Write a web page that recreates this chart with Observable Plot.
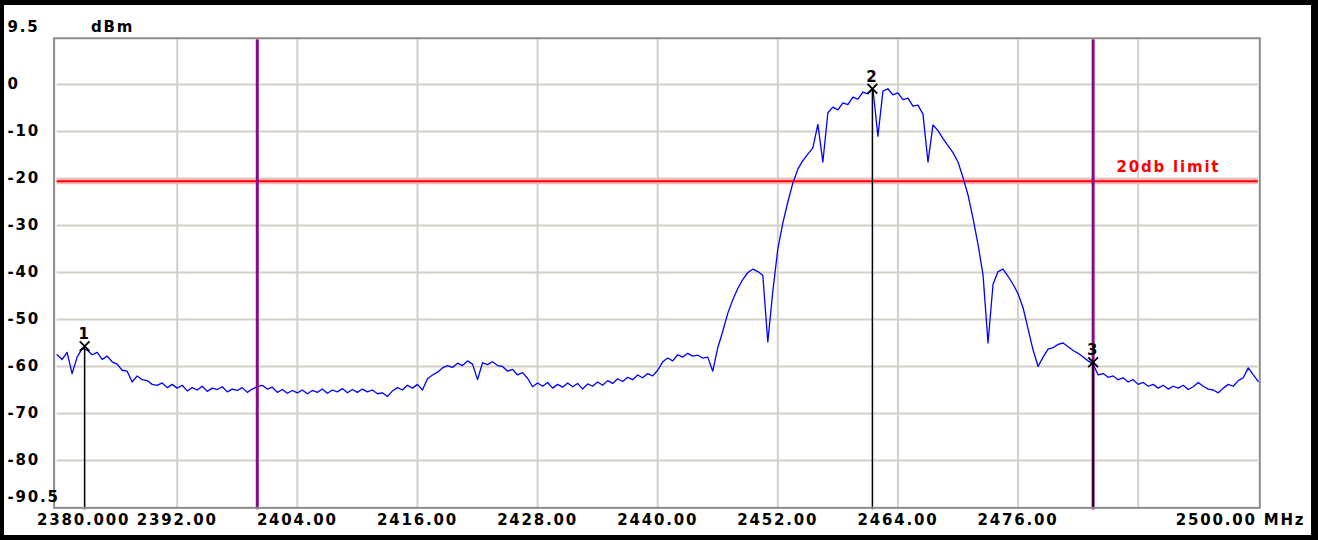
<!DOCTYPE html>
<html><head><meta charset="utf-8">
<script src="https://cdn.jsdelivr.net/npm/d3@7"></script>
<script src="https://cdn.jsdelivr.net/npm/@observablehq/plot@0.6"></script>
<style>
html,body{margin:0;padding:0;background:#000;}
#wrap{position:relative;width:1318px;height:540px;background:#000;overflow:hidden;}
#chart{position:absolute;left:4px;top:5px;width:1307px;height:530px;background:#fff;}
#chart svg text{letter-spacing:1.8px;}
</style></head><body><div id="wrap"><div id="chart"></div></div>
<script>
// Spectrum trace: level (dBm) every 0.5 MHz from 2380 MHz
const startFreq = 2380;
const freqStep = 0.5;
const traceLevels = [
  // 2380 - 2389.5
  -57.5, -58.5, -57.0, -61.5, -58.0, -56.2, -56.5, -57.5, -57.0, -58.5, -57.8, -59.0, -59.5, -60.8, -61.0, -63.3, -62.0, -62.8, -63.0, -63.8,
  // 2390 - 2399.5
  -64.0, -63.5, -64.5, -63.8, -64.6, -64.0, -65.2, -64.5, -65.0, -64.2, -65.3, -64.6, -64.9, -64.3, -65.4, -64.8, -65.1, -64.5, -65.5, -64.8,
  // 2400 - 2409.5
  -64.3, -64.0, -64.8, -64.4, -65.5, -64.9, -65.7, -65.1, -65.6, -65.0, -65.8, -65.1, -65.5, -64.8, -65.7, -65.0, -65.4, -64.7, -65.6, -64.9,
  // 2410 - 2419.5
  -65.5, -64.8, -65.4, -65.0, -65.8, -65.6, -66.4, -65.2, -64.5, -65.0, -64.0, -64.6, -63.8, -65.0, -62.6, -61.8, -61.2, -60.3, -59.8, -60.2,
  // 2420 - 2429.5
  -59.3, -59.8, -58.8, -59.5, -62.8, -59.2, -59.6, -59.0, -59.8, -60.0, -61.0, -60.6, -61.8, -61.3, -62.5, -64.3, -63.5, -64.2, -63.4, -64.6,
  // 2430 - 2439.5
  -63.8, -64.4, -63.5, -64.3, -63.6, -64.8, -63.7, -64.2, -63.3, -64.0, -63.0, -63.6, -62.6, -63.2, -62.3, -62.8, -61.8, -62.4, -61.5, -62.0,
  // 2440 - 2449.5
  -60.8, -59.0, -58.2, -58.8, -57.5, -58.0, -57.2, -57.8, -57.6, -58.2, -58.0, -61.0, -56.0, -52.5, -48.7, -45.8, -43.4, -41.5, -40.0, -39.3,
  // 2450 - 2459.5
  -39.8, -40.6, -54.8, -44.0, -35.0, -29.5, -25.0, -21.0, -18.0, -16.2, -14.8, -13.5, -8.5, -16.5, -6.0, -4.8, -5.4, -3.9, -4.3, -2.7,
  // 2460 - 2469.5
  -3.1, -1.6, -2.0, -0.9, -11.0, -1.4, -0.9, -2.2, -1.8, -3.2, -2.9, -4.6, -4.4, -6.3, -16.5, -8.6, -9.8, -11.5, -13.0, -14.5,
  // 2470 - 2479.5
  -16.5, -19.8, -23.5, -28.5, -34.0, -40.5, -55.0, -42.5, -39.8, -39.3, -40.8, -42.5, -44.5, -47.5, -52.0, -56.5, -60.0, -58.0, -56.3, -56.0,
  // 2480 - 2489.5
  -55.3, -55.0, -55.8, -56.6, -57.2, -58.0, -58.8, -59.5, -61.8, -61.5, -62.3, -62.0, -62.8, -62.4, -63.3, -62.8, -63.8, -63.4, -64.2, -63.8,
  // 2490 - 2500
  -64.6, -64.0, -64.8, -64.2, -64.6, -64.0, -64.9, -64.3, -63.4, -64.2, -64.8, -65.0, -65.6, -64.6, -63.8, -64.2, -63.0, -62.4, -60.3, -61.8,
  -63.2
];

// Markers
const markerFreqs = [2382.75, 2461.45, 2483.5];
const markerLevels = [-55.7, -0.9, -59.1];
const markerLabels = ["1", "2", "3"];

// Limit / band lines
const bandEdges = [2400, 2483.5];
const limitLevel = -20.6;
const limitLabel = "20db limit";

// Axes
const xDomain = [2380, 2500];
const yDomain = [-90.5, 9.5];
const xGrid = [2392, 2404, 2416, 2428, 2440, 2452, 2464, 2476, 2488];
const xTickLabels = [2392, 2404, 2416, 2428, 2440, 2452, 2464, 2476];
const startLabel = "2380.000";
const endLabel = "2500.00 MHz";
const yGrid = [0, -10, -20, -30, -40, -50, -60, -70, -80];
const yEnds = [9.5, -90.5];
const unitLabel = "dBm";

const trace = traceLevels.map((v, i) => ({f: startFreq + i * freqStep, v}));
const markers = markerFreqs.map((f, i) => ({f, v: markerLevels[i], label: markerLabels[i]}));

const font = {fontSize: 15, fontWeight: "bold", fill: "#000", lineAnchor: "middle"};

const chart = Plot.plot({
  width: 1307,
  height: 530,
  marginLeft: 52.6,
  marginRight: 53.2,
  marginTop: 34.35,
  marginBottom: 25.65,
  x: {domain: xDomain, axis: null},
  y: {domain: yDomain, axis: null},
  style: {fontFamily: "DejaVu Sans", fontWeight: "bold", background: "#fff", overflow: "visible"},
  marks: [
    Plot.gridX(xGrid, {stroke: "#d4d0c8", strokeOpacity: 1, strokeWidth: 2}),
    Plot.gridY(yGrid, {stroke: "#d4d0c8", strokeOpacity: 1, strokeWidth: 2}),
    Plot.ruleY([limitLevel], {stroke: "#ffb8b8", strokeWidth: 6}),
    Plot.ruleY([limitLevel], {stroke: "#ff0000", strokeWidth: 2}),
    Plot.line(trace, {x: "f", y: "v", stroke: "#0000ff", strokeWidth: 1.3}),
    Plot.ruleX(bandEdges, {stroke: "#8b0a8b", strokeWidth: 3}),
    Plot.ruleX(markers, {x: "f", y1: "v", y2: yDomain[0], stroke: "#000", strokeWidth: 1.5}),
    Plot.dot(markers, {x: "f", y: "v", symbol: "times", r: 4.5, stroke: "#000", strokeWidth: 1.8}),
    Plot.text(markers, {x: "f", y: "v", text: "label", dy: -12, ...font}),
    Plot.frame({stroke: "#8c8c8c", strokeWidth: 2, insetLeft: -3, insetRight: -1.5, insetTop: -1.6, insetBottom: 2}),
    Plot.text(yGrid, {y: d => d, text: d => String(d), frameAnchor: "left", textAnchor: "start", dx: -49.6, ...font}),
    Plot.text(yEnds, {y: d => d, text: d => String(d), frameAnchor: "left", textAnchor: "start", dx: -49.6, dy: -13, ...font}),
    Plot.text([unitLabel], {frameAnchor: "top-left", textAnchor: "middle", dx: 55.4, dy: -13, ...font}),
    Plot.text(xTickLabels, {x: d => d, text: d => d.toFixed(2), frameAnchor: "bottom", dy: 10, ...font}),
    Plot.text([startLabel], {frameAnchor: "bottom-left", textAnchor: "start", dx: -20, dy: 10, ...font}),
    Plot.text([endLabel], {frameAnchor: "bottom-right", textAnchor: "end", dx: 47, dy: 10, ...font}),
    Plot.text([{t: limitLabel, v: limitLevel}], {y: "v", text: "t", frameAnchor: "right", textAnchor: "end", dx: -38, dy: -14, ...font, fill: "#ff0000"})
  ]
});
document.getElementById("chart").appendChild(chart);
</script></body></html>
